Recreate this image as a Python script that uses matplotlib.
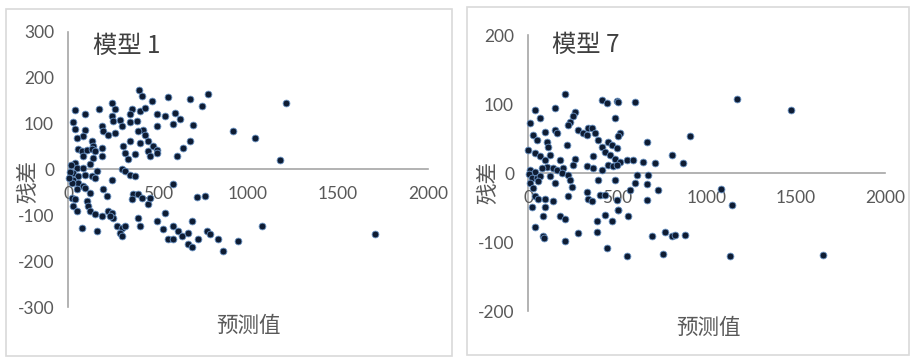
import matplotlib
matplotlib.use("Agg")
import matplotlib.pyplot as plt
from matplotlib.patches import Rectangle

plt.rcParams["font.family"] = ["Lato", "Noto Sans CJK SC", "DejaVu Sans"]
plt.rcParams["axes.unicode_minus"] = False

CJK = ["Noto Sans CJK SC", "DejaVu Sans"]
TEXT = "#595959"
AXIS = "#a6a6a6"
FRAME = "#d9d9d9"

# model 1: predicted value vs residual
pred1 = [39, 94, 174, 243, 261, 354, 344, 400, 428, 465, 396, 409, 493,
         30, 39, 94, 85, 187, 196, 243, 252, 289, 298, 261, 224, 344, 381, 419, 428, 391, 493,
         48, 131, 141, 344, 400, 446, 474, 493,
         57, 76, 104, 131, 150, 187, 85, 141, 187, 307, 317, 335, 372, 446, 456, 493,
         39, 48, 85, 122, 30, 57, 94, 131, 159, 298, 317, 344, 372,
         30, 57, 85, 48, 94, 122, 150, 243, 196, 215, 20, 39, 104, 363, 391, 354, 409, 446, 456,
         30, 48, 113, 122, 150, 187, 224, 243, 252, 233,
         76, 159, 270, 298, 317, 289, 298, 391, 400, 493,
         10, 15, 22, 8,
         557, 677, 779, 742, 539, 594, 622, 585, 696, 918, 1039, 677, 640, 603,
         585, 714, 761, 539, 529, 585, 613, 557, 585, 631, 668, 687, 724, 668, 687,
         770, 788, 835, 863, 946, 1076,
         1209, 1178, 1706]
resid1 = [129, 120, 132, 144, 132, 132, 120, 127, 134, 150, 173, 160, 120,
          103, 88, 87, 72, 94, 83, 116, 105, 109, 94, 80, 76, 103, 105, 87, 76, 83, 94,
          69, 62, 51, 62, 58, 62, 51, 43,
          44, 40, 42, 44, 40, 47, 29, 25, 29, 51, 36, 22, 33, 40, 29, 36,
          15, 4, 4, 11, -7, -14, -11, -14, -3, 0, -3, -11, -14,
          -22, -29, -36, -43, -40, -51, -18, -22, -43, -58, -62, -65, -69, -54, -54, -65, -62, -76, -62,
          -80, -91, -80, -91, -98, -101, -91, -94, -105, -101,
          -127, -134, -123, -127, -123, -138, -145, -105, -123, -112,
          -5, 10, -30, -18,
          159, 154, 165, 139, 117, 123, 110, 99, 96, 83, 69, 62, 47, 29,
          -32, -59, -58, -94, -130, -123, -134, -152, -152, -145, -138, -112, -152, -163, -170,
          -134, -141, -152, -177, -156, -123,
          146, 20, -140]

# model 7: predicted value vs residual
pred7 = [207, 39, 151, 67, 11, 263, 254, 235, 226, 413, 444, 497, 487,
         95, 151, 161, 30, 49, 105, 114,
         282, 310, 338, 357, 375, 394, 329,
         450, 469, 413, 431, 459, 487, 497,
         2, 39, 67, 95, 123, 105,
         217, 179, 263, 254,
         366, 329, 366, 413, 450, 478,
         11, 39, 77, 142, 161, 198, 189,
         5, 21, 49, 67, 11, 58, 30,
         123, 151, 226, 235, 245,
         329, 338, 357, 394, 403, 431,
         39, 58, 95, 142, 95, 21, 226,
         86, 179, 207, 39,
         86, 207, 282,
         385, 385, 431, 469, 441,
         497, 506,
         506, 599, 515, 506, 664, 907, 804, 870,
         515, 552, 590, 646, 711, 496,
         608, 674, 599, 664, 487, 571, 730, 664,
         506, 562,
         692, 767, 804, 823, 879,
         552, 758, 1084,
         1172, 1471, 1141, 1131, 1654, 90]
resid7 = [115, 92, 94, 79, 72, 89, 82, 74, 70, 106, 102, 105, 79,
          59, 62, 58, 55, 48, 45, 38,
          62, 58, 65, 65, 58, 48, 55,
          45, 41, 38, 31, 26, 21, 36,
          33, 29, 24, 19, 26, 9,
          40, 19, 21, 12,
          25, 10, 7, 5, 12, 10,
          4, 2, 7, 7, 5, 7, 0,
          -1, -7, -7, -5, -15, -12, -22,
          -5, -15, -3, -10, -20,
          -27, -37, -41, -10, -32, -32,
          -34, -37, -37, -41, -49, -49, -34,
          -63, -63, -66, -78,
          -92, -99, -87,
          -70, -85, -61, -70, -109,
          -39, -53,
          103, 103, 58, 53, 45, 53, 26, 14,
          16, 19, 19, 16, 14, 12,
          -3, -3, -14, -16, -10, -24, -24, -39,
          -54, -62,
          -92, -85, -92, -90, -90,
          -121, -117, -23,
          107, 92, -46, -121, -119, -94]

W, H = 910, 358


def fx(px):
    return px / W


def fy(py):
    return 1 - py / H


def draw_panel(fig, box, rect, x, y, ylim, yticks, title, title_xy, xlab_xy, ylab_xy):
    fig.patches.append(Rectangle((fx(box[0]), fy(box[3])), fx(box[2] - box[0]),
                                 (box[3] - box[1]) / H, transform=fig.transFigure,
                                 fill=False, edgecolor=FRAME, linewidth=1.2))
    ax = fig.add_axes(rect)
    ax.scatter(x, y, s=24, c="#0e1c33", edgecolors="#6a93c4", linewidths=0.6,
               zorder=3, clip_on=False)
    ax.set_xlim(0, 2000)
    ax.set_ylim(*ylim)
    ax.set_xticks([0, 500, 1000, 1500, 2000])
    ax.set_yticks(yticks)
    ax.patch.set_visible(False)
    for s in ("top", "right"):
        ax.spines[s].set_visible(False)
    ax.spines["bottom"].set_position(("data", 0))
    for s in ("bottom", "left"):
        ax.spines[s].set_color(AXIS)
        ax.spines[s].set_linewidth(1.2)
        ax.spines[s].set_zorder(1)
    ax.tick_params(axis="x", length=0, pad=12, labelsize=12.5, labelcolor=TEXT)
    ax.tick_params(axis="y", length=0, pad=10, labelsize=12.5, labelcolor=TEXT)
    fig.text(fx(title_xy[0]), fy(title_xy[1]), title, family=CJK, fontsize=17.5,
             color="#404040", ha="center", va="center")
    fig.text(fx(xlab_xy[0]), fy(xlab_xy[1]), "预测值", family=CJK, fontsize=15.5,
             color=TEXT, ha="center", va="center")
    fig.text(fx(ylab_xy[0]), fy(ylab_xy[1]), "残差", family=CJK, fontsize=15.5,
             color=TEXT, ha="center", va="center", rotation=90)
    return ax


fig = plt.figure(figsize=(W / 100, H / 100), dpi=100)

draw_panel(fig, (6, 9, 452, 356),
           [fx(68), fy(307), (428 - 68) / W, (307 - 32) / H],
           pred1, resid1, (-300, 300), [-300, -200, -100, 0, 100, 200, 300],
           "模型 1", (127, 46), (248, 326), (28, 181))

draw_panel(fig, (467, 7, 909, 355),
           [fx(528), fy(311), (885 - 528) / W, (311 - 35) / H],
           pred7, resid7, (-200, 200), [-200, -100, 0, 100, 200],
           "模型 7", (586, 45), (708, 328), (488, 183))

fig.savefig("out.png", dpi=100, facecolor="white")
